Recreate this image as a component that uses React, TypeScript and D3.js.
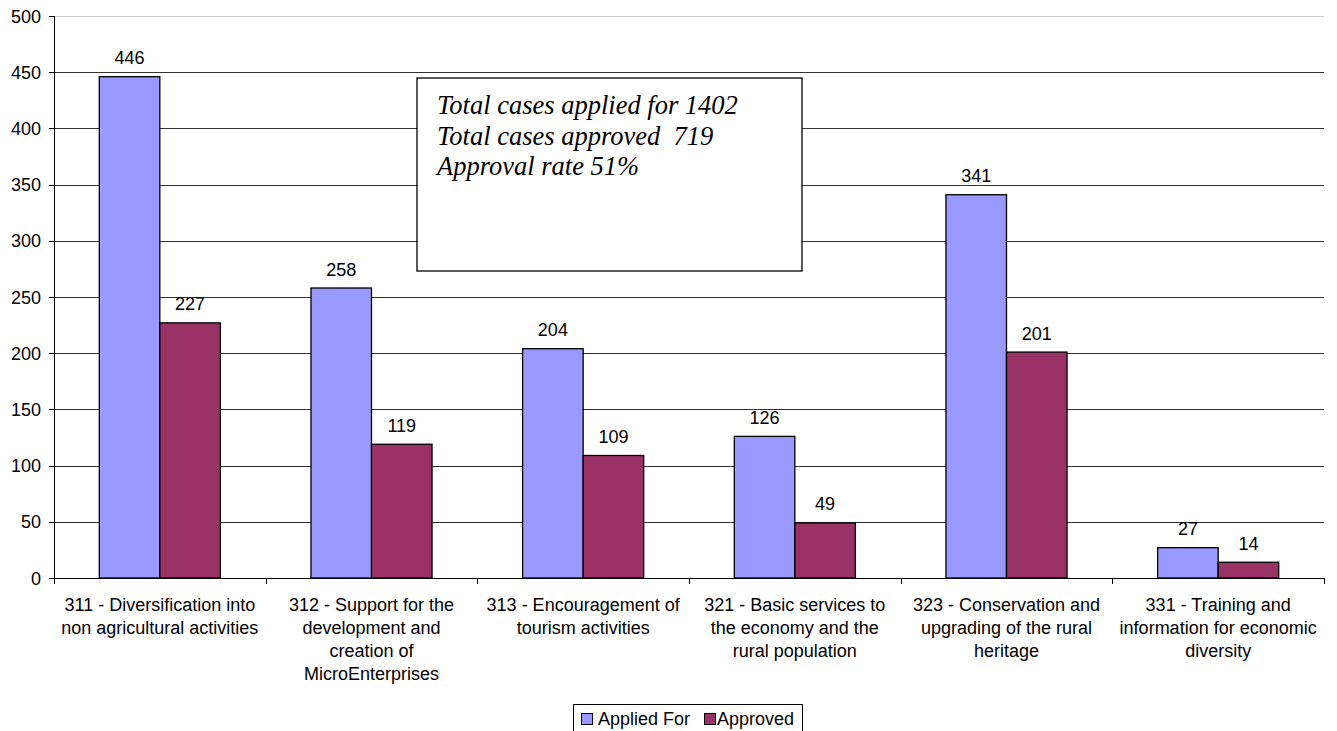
import React from "react";
import * as d3 from "d3";

const categories = [
  ["311 - Diversification into", "non agricultural activities"],
  ["312 - Support for the", "development and", "creation of", "MicroEnterprises"],
  ["313 - Encouragement of", "tourism activities"],
  ["321 - Basic services to", "the economy and the", "rural population"],
  ["323 - Conservation and", "upgrading of the rural", "heritage"],
  ["331 - Training and", "information for economic", "diversity"],
];
const appliedFor = [446, 258, 204, 126, 341, 27];
const approved = [227, 119, 109, 49, 201, 14];
const seriesNames = ["Applied For", "Approved"];
const seriesColors = ["#9999FF", "#993366"];
const yTicks = [0, 50, 100, 150, 200, 250, 300, 350, 400, 450, 500];
const noteLines = ["Total cases applied for 1402", "Total cases approved  719", "Approval rate 51%"];

export default function App() {
  const W = 1337, H = 731;
  const left = 54, right = 1324, top = 16, bottom = 578;
  const y = d3.scaleLinear().domain([0, 500]).range([bottom, top]);
  const x0 = d3.scaleBand().domain(categories.map((_, i) => String(i))).range([left, right]).paddingInner(0).paddingOuter(0);
  const bw = x0.bandwidth();
  const barW = bw * 0.286;
  const series = [appliedFor, approved];
  const font = "'Liberation Sans', Arial, sans-serif";
  const fs = 18;
  return (
    <svg width={W} height={H} style={{ position: "absolute", left: 0, top: 0, background: "#fff" }}>
      {/* gridlines */}
      {yTicks.map((t) => (
        <line key={t} x1={left} x2={right} y1={Math.round(y(t)) + 0.5} y2={Math.round(y(t)) + 0.5}
          stroke={t === 500 ? "#d0d0d0" : t === 0 ? "#000" : "#333"} strokeWidth={1} />
      ))}
      {/* y axis */}
      <line x1={left + 0.5} x2={left + 0.5} y1={top} y2={bottom + 0.5} stroke="#000" />
      {yTicks.map((t) => (
        <g key={"yt" + t}>
          <line x1={left - 5} x2={left} y1={Math.round(y(t)) + 0.5} y2={Math.round(y(t)) + 0.5} stroke="#000" />
          <text x={41} y={y(t) + 6.5} textAnchor="end" fontFamily={font} fontSize={fs} fill="#000">{t}</text>
        </g>
      ))}
      {/* x ticks */}
      {d3.range(categories.length + 1).map((i) => {
        const xx = Math.round(left + i * bw) + 0.5;
        return <line key={"xt" + i} x1={xx} x2={xx} y1={bottom} y2={bottom + 6} stroke="#000" />;
      })}
      {/* bars */}
      {categories.map((_, i) => {
        const cx = (x0(String(i)) as number) + bw / 2;
        return series.map((s, k) => {
          const bx = cx - barW + k * barW;
          return (
            <g key={i + "-" + k}>
              <rect x={bx} y={y(s[i])} width={barW} height={bottom - y(s[i])} fill={seriesColors[k]} stroke="#000" strokeWidth={1.3} />
              <text x={bx + barW / 2} y={y(s[i]) - 12.5} textAnchor="middle" fontFamily={font} fontSize={fs} fill="#000">{s[i]}</text>
            </g>
          );
        });
      })}
      {/* category labels */}
      {categories.map((lines, i) => {
        const cx = (x0(String(i)) as number) + bw / 2;
        return (
          <text key={"c" + i} textAnchor="middle" fontFamily={font} fontSize={fs} fill="#000">
            {lines.map((l, j) => (
              <tspan key={j} x={cx} y={611 + j * 23}>{l}</tspan>
            ))}
          </text>
        );
      })}
      {/* note box */}
      <rect x={417} y={78} width={385} height={193} fill="#fff" stroke="#000" strokeWidth={1.3} />
      {noteLines.map((l, j) => (
        <text key={"n" + j} x={437} y={114 + j * 30.5} fontFamily="'Liberation Serif', 'Times New Roman', serif" fontStyle="italic" fontSize={26.5} fill="#000" style={{ whiteSpace: "pre" }}>{l}</text>
      ))}
      {/* legend */}
      <rect x={573.5} y={704.5} width={229} height={30} fill="#fff" stroke="#000" strokeWidth={1} />
      {seriesNames.map((n, k) => {
        const sx = k === 0 ? 581 : 704;
        const tx = k === 0 ? 598 : 717;
        return (
          <g key={"lg" + k}>
            <rect x={sx + 0.5} y={713.5} width={11} height={11} fill={seriesColors[k]} stroke="#000" strokeWidth={1} />
            <text x={tx} y={725} fontFamily={font} fontSize={fs} fill="#000">{n}</text>
          </g>
        );
      })}
    </svg>
  );
}
